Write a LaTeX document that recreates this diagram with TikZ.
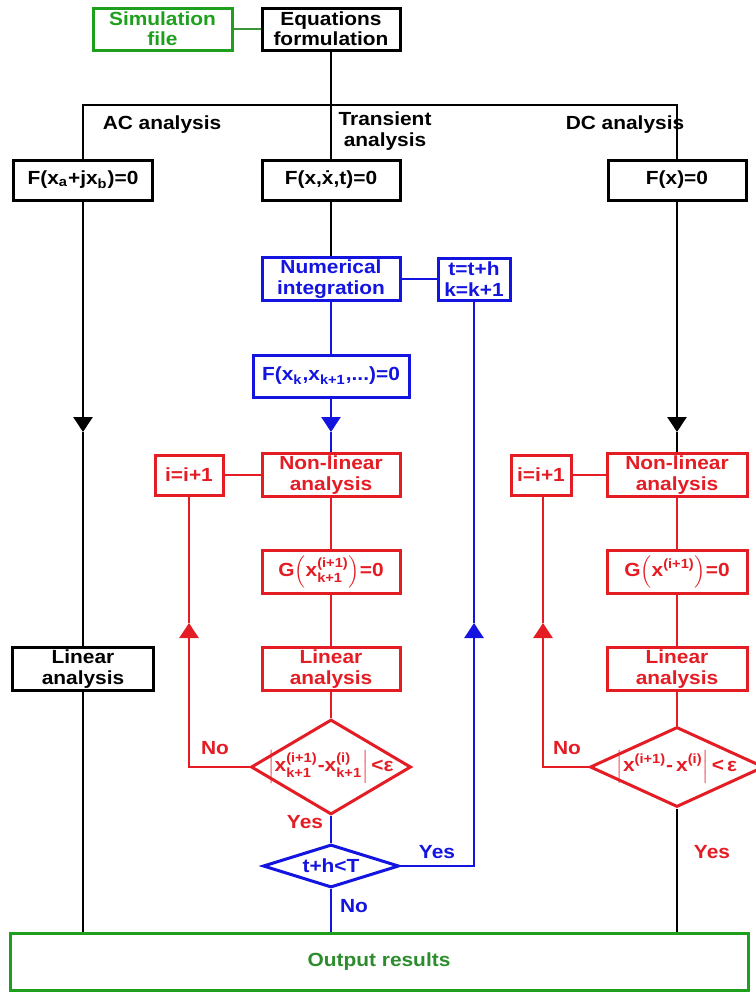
\documentclass[tikz,border=0pt]{standalone}
\usepackage{amsmath}
\usepackage{fontspec}
\setmainfont{Liberation Sans}[FakeStretch=1.1]
\usetikzlibrary{shapes.geometric, arrows.meta}
\definecolor{FileColor}{RGB}{30,160,30}
\definecolor{OutColor}{RGB}{45,140,45}
\definecolor{LoopColor}{RGB}{228,28,36}
\definecolor{StepColor}{RGB}{20,20,225}
\tikzstyle{block} = [rectangle, draw, line width=1.5pt, inner sep=1pt, align=center, font=\bfseries\fontsize{9.5}{10.2}\selectfont]
\tikzstyle{decision} = [diamond, draw, line width=1.5pt, inner sep=0pt, align=center, font=\bfseries\fontsize{9.5}{10.2}\selectfont]
\tikzstyle{tag} = [inner sep=0pt, align=center, font=\bfseries\fontsize{9.5}{10.2}\selectfont]
\tikzstyle{link} = [line width=1.3pt]
\tikzstyle{tip} = [line width=1.3pt, -{Triangle[length=7.5pt,width=9.5pt]}]

\begin{document}
\begin{tikzpicture}[x=0.5pt, y=-0.5pt]
  \useasboundingbox (0,0) rectangle (756,992);

  % Top
  \node[block, FileColor, minimum width=69.5pt, minimum height=21pt] (simfile) at (162.5,29) {Simulation\\file};
  \node[block, minimum width=69pt, minimum height=21pt] (eqform) at (331,29) {Equations\\formulation};
  \draw[link, FileColor!70!gray, line width=1pt] (simfile) -- (eqform);

  % Branches
  \node[block, minimum width=69.5pt, minimum height=20pt] (acfun) at (83,180) {F(x\textsubscript{a}+jx\textsubscript{b})=0};
  \node[block, minimum width=69pt, minimum height=20pt] (trfun) at (331,180) {F(x,\.{x},t)=0};
  \node[block, minimum width=69pt, minimum height=20pt] (dcfun) at (677,180) {F(x)=0};
  \coordinate (split) at (331,105);
  \draw[link] (eqform) -- (trfun);
  \draw[link] (acfun.north) |- (split) -| (dcfun.north);
  \node[tag] (aclabel) at (162,125) {AC analysis};
  \node[tag] (trlabel) at (385,131) {Transient\\analysis};
  \node[tag] (dclabel) at (625,125) {DC analysis};

  % Output
  \node[block, OutColor, draw=FileColor, minimum width=369pt, minimum height=28.5pt] (output) at (379,961.5) {Output results};

  % AC analysis
  \node[block, minimum width=70.5pt, minimum height=21pt] (aclin) at (83,669) {Linear\\analysis};
  \coordinate (acdown) at (83,432);
  \draw[tip] (acfun) -- (acdown);
  \draw[link] (acdown) -- (aclin);
  \draw[link] (aclin.south) -- (aclin.south |- output.north);

  % Transient analysis
  \node[block, StepColor, minimum width=69pt, minimum height=21pt] (numint) at (331,279) {Numerical\\integration};
  \node[block, StepColor, minimum width=36pt, minimum height=21pt] (tstep) at (474,279) {t=t+h\\k=k+1};
  \node[block, StepColor, minimum width=78pt, minimum height=21pt] (fxk) at (331,376) {F(x\textsubscript{k},x\textsubscript{k+1},...)=0};
  \node[block, LoopColor, minimum width=69pt, minimum height=20pt] (trnonlin) at (331,475) {Non-linear\\analysis};
  \node[block, LoopColor, minimum width=34pt, minimum height=20pt] (trinc) at (189,475) {i=i+1};
  \node[block, LoopColor, minimum width=69pt, minimum height=21.5pt] (trg) at (331,571.5) {$\text{G}\!\left(\text{x}^{\text{(i+1)}}_{\text{k+1}}\right)\!\text{=0}$};
  \node[block, LoopColor, minimum width=69pt, minimum height=21pt] (trlin) at (331,669) {Linear\\analysis};
  \node[decision, LoopColor, minimum width=80pt, minimum height=47.5pt] (trtest) at (331,767) {\makebox[0pt]{$\left|\text{x}^{\text{(i+1)}}_{\text{k+1}}\text{-x}^{\text{(i)}}_{\text{k+1}}\right|\text{<ε}$}};
  \node[decision, StepColor, minimum width=68pt, minimum height=21.5pt] (ttest) at (331,866) {\makebox[0pt]{t+h<T}};
  \coordinate (trdown) at (331,432);
  \coordinate (trup) at (189,623);
  \coordinate (tup) at (474,623);
  \draw[link] (trfun) -- (numint);
  \draw[link, StepColor] (numint) -- (tstep);
  \draw[link, StepColor] (numint) -- (fxk);
  \draw[tip, StepColor] (fxk) -- (trdown);
  \draw[link, StepColor] (trdown) -- (trnonlin);
  \draw[link, LoopColor] (trnonlin) -- (trg);
  \draw[link, LoopColor] (trg) -- (trlin);
  \draw[link, LoopColor] (trlin) -- (trtest);
  \draw[tip, LoopColor] (trtest.west) -| (trup);
  \draw[link, LoopColor] (trup) -- (trinc);
  \draw[link, LoopColor] (trinc) -- (trnonlin);
  \draw[link, StepColor] (trtest.south) -- (ttest.north);
  \draw[tip, StepColor] (ttest.east) -| (tup);
  \draw[link, StepColor] (tup) -- (tstep);
  \draw[link, StepColor] (ttest.south) -- (ttest.south |- output.north);
  \node[tag, LoopColor] (trno) at (215,748) {No};
  \node[tag, LoopColor] (tryes) at (305,822) {Yes};
  \node[tag, StepColor] (tyes) at (437,852) {Yes};
  \node[tag, StepColor] (tno) at (354,906) {No};

  % DC analysis
  \node[block, LoopColor, minimum width=70pt, minimum height=20pt] (dcnonlin) at (677,475) {Non-linear\\analysis};
  \node[block, LoopColor, minimum width=30pt, minimum height=20pt] (dcinc) at (541,475) {i=i+1};
  \node[block, LoopColor, minimum width=70pt, minimum height=21.5pt] (dcg) at (677,571.5) {$\text{G}\!\left(\text{x}^{\text{(i+1)}}\right)\!\text{=0}$};
  \node[block, LoopColor, minimum width=70pt, minimum height=21pt] (dclin) at (677,669) {Linear\\analysis};
  \node[decision, LoopColor, minimum width=87pt, minimum height=40pt] (dctest) at (677,767) {\makebox[0pt]{$\left|\text{x}^{\text{(i+1)}}\text{-}\,\text{x}^{\text{(i)}}\right|\text{<}\,\text{ε}$}};
  \coordinate (dcdown) at (677,432);
  \coordinate (dcup) at (543,623);
  \draw[tip] (dcfun) -- (dcdown);
  \draw[link] (dcdown) -- (dcnonlin);
  \draw[link, LoopColor] (dcnonlin) -- (dcg);
  \draw[link, LoopColor] (dcg) -- (dclin);
  \draw[link, LoopColor] (dclin) -- (dctest);
  \draw[tip, LoopColor] (dctest.west) -| (dcup);
  \draw[link, LoopColor] (dcup) -- (dcinc.south -| dcup);
  \draw[link, LoopColor] (dcinc) -- (dcnonlin);
  \draw[link] (dctest.south) -- (dctest.south |- output.north);
  \node[tag, LoopColor] (dcno) at (567,748) {No};
  \node[tag, LoopColor] (dcyes) at (712,852) {Yes};
\end{tikzpicture}
\end{document}
